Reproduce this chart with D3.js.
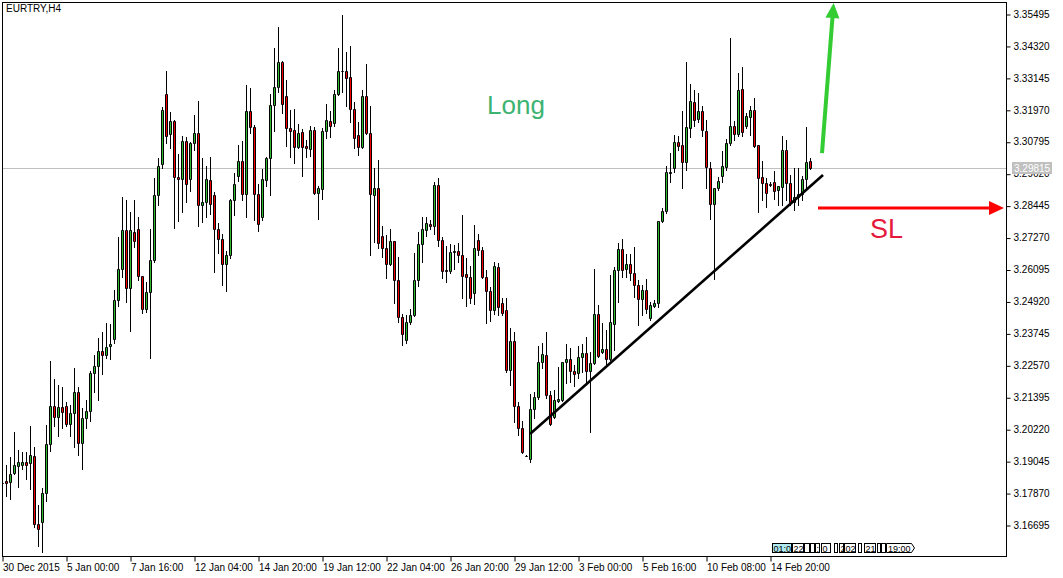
<!DOCTYPE html>
<html><head><meta charset="utf-8">
<script src="https://cdn.jsdelivr.net/npm/d3@7"></script>
<style>
body{margin:0;background:#fff}
svg{display:block}
text{font-family:"Liberation Sans",Arial,sans-serif}
</style>
</head><body>
<svg id="c" width="1063" height="578"></svg>
<script>
const chartTitle = "EURTRY,H4";

const openP = [
3.1824,3.1831,3.1826,3.1859,3.1887,3.1891,3.1903,3.1896,3.1922,3.1672,
3.1681,3.1789,3.1966,3.2106,3.2065,3.2102,3.2106,3.2040,3.2080,3.2158,
3.1970,3.2062,3.2089,3.2228,3.2254,3.2310,3.2294,3.2327,3.2352,3.2497,
3.2611,3.2755,3.2540,3.2747,3.2757,3.2584,3.2463,3.2526,3.2643,3.2882,
3.2996,3.3255,3.3107,3.3156,3.2950,3.2941,3.3082,3.2941,3.3074,3.3112,
3.2846,3.2857,3.2938,3.2882,3.2757,3.2723,3.2628,3.2663,3.2865,3.2954,
3.3007,3.2886,3.3191,3.3134,3.2886,3.2804,3.2939,3.3019,3.3214,3.3280,
3.3373,3.3248,3.3130,3.3122,3.3059,3.3115,3.3064,3.3054,3.3122,3.2892,
3.2907,3.3118,3.3156,3.3147,3.3254,3.3340,3.3340,3.3316,3.3200,3.3103,
3.3059,3.3247,3.3111,3.2882,3.2908,3.2731,3.2688,3.2628,3.2714,3.2570,
3.2433,3.2349,3.2417,3.2441,3.2571,3.2702,3.2755,3.2776,3.2768,3.2919,
3.2717,3.2609,3.2603,3.2673,3.2677,3.2662,3.2592,3.2582,3.2522,3.2717,
3.2680,3.2583,3.2529,3.2459,3.2617,3.2485,3.2459,3.2238,3.2345,3.2106,
3.2025,3.1925,3.1911,3.2096,3.2139,3.2268,3.2295,3.2146,3.2065,3.2125,
3.2130,3.2268,3.2279,3.2236,3.2229,3.2286,3.2301,3.2235,3.2264,3.2444,
3.2307,3.2316,3.2281,3.2410,3.2607,3.2686,3.2611,3.2628,3.2598,3.2551,
3.2500,3.2534,3.2430,3.2476,3.2485,3.2787,3.2825,3.2964,3.2982,3.3077,
3.3067,3.3006,3.3131,3.3225,3.3162,3.3193,3.3119,3.2982,3.2849,3.2910,
3.2954,3.2985,3.3076,3.3137,3.3109,3.3274,3.3138,3.3172,3.3196,3.3067,
3.2949,3.2929,3.2923,3.2930,3.2901,3.2914,3.3049,3.2926,3.2859,3.2877,
3.2888,3.2941,3.3009];

const highP = [
3.1835,3.1890,3.1920,3.2011,3.1945,3.1938,3.1938,3.2033,3.1956,3.1743,
3.1804,3.2037,3.2273,3.2206,3.2185,3.2179,3.2123,3.2110,3.2247,3.2178,
3.2101,3.2130,3.2236,3.2295,3.2357,3.2379,3.2412,3.2408,3.2534,3.2730,
3.2876,3.2865,3.2821,3.2865,3.2804,3.2586,3.2562,3.2758,3.2946,3.3019,
3.3208,3.3341,3.3189,3.3158,3.3034,3.3102,3.3096,3.3080,3.3177,3.3228,
3.3020,3.2989,3.3022,3.2894,3.2782,3.2740,3.2677,3.2870,3.2963,3.3066,
3.3083,3.3288,3.3279,3.3142,3.2923,3.2980,3.3024,3.3255,3.3424,3.3503,
3.3378,3.3307,3.3196,3.3201,3.3146,3.3126,3.3085,3.3136,3.3133,3.2916,
3.3130,3.3218,3.3193,3.3270,3.3424,3.3546,3.3411,3.3432,3.3225,3.3152,
3.3270,3.3366,3.3210,3.2984,3.3012,3.2770,3.2736,3.2758,3.2716,3.2656,
3.2444,3.2443,3.2466,3.2670,3.2748,3.2804,3.2802,3.2790,3.2931,3.2946,
3.2730,3.2696,3.2703,3.2699,3.2708,3.2810,3.2651,3.2622,3.2773,3.2739,
3.2693,3.2607,3.2545,3.2636,3.2632,3.2503,3.2504,3.2395,3.2378,3.2123,
3.2053,3.1926,3.2150,3.2157,3.2329,3.2340,3.2378,3.2163,3.2165,3.2252,
3.2270,3.2335,3.2319,3.2258,3.2327,3.2335,3.2362,3.2305,3.2611,3.2478,
3.2414,3.2387,3.2588,3.2618,3.2706,3.2720,3.2667,3.2665,3.2692,3.2572,
3.2552,3.2574,3.2490,3.2497,3.2789,3.2837,3.2990,3.3038,3.3104,3.3101,
3.3193,3.3373,3.3292,3.3270,3.3260,3.3211,3.3159,3.3004,3.2910,3.2951,
3.3045,3.3090,3.3462,3.3156,3.3334,3.3356,3.3184,3.3211,3.3239,3.3068,
3.3010,3.2945,3.2931,3.2971,3.2917,3.3101,3.3086,3.2957,3.2983,3.2982,
3.2954,3.3134,3.3020];

const lowP = [
3.1809,3.1776,3.1766,3.1857,3.1810,3.1876,3.1839,3.1803,3.1663,3.1594,
3.1572,3.1758,3.1942,3.2035,3.1996,3.2025,3.2035,3.1996,3.1957,3.1927,
3.1876,3.2027,3.2053,3.2160,3.2130,3.2224,3.2285,3.2279,3.2338,3.2475,
3.2581,3.2491,3.2384,3.2693,3.2571,3.2448,3.2453,3.2285,3.2637,3.2847,
3.2983,3.3076,3.3056,3.2763,3.2789,3.2822,3.2859,3.2897,3.3049,3.2770,
3.2785,3.2804,3.2812,3.2601,3.2671,3.2552,3.2531,3.2652,3.2810,3.2935,
3.2865,3.2801,3.3111,3.2791,3.2751,3.2791,3.2918,3.2885,3.3120,3.3264,
3.3186,3.3064,3.3024,3.3002,3.3055,3.2954,3.3024,3.3027,3.2887,3.2796,
3.2868,3.3094,3.3097,3.3137,3.3252,3.3264,3.3212,3.3151,3.3058,3.3032,
3.3056,3.3109,3.2662,3.2712,3.2688,3.2655,3.2579,3.2626,3.2486,3.2417,
3.2331,3.2340,3.2408,3.2438,3.2550,3.2638,3.2734,3.2759,3.2739,3.2696,
3.2579,3.2564,3.2598,3.2610,3.2637,3.2506,3.2474,3.2485,3.2482,3.2663,
3.2578,3.2414,3.2420,3.2447,3.2441,3.2443,3.2233,3.2184,3.2048,3.2000,
3.1935,3.1922,3.1902,3.2063,3.2134,3.2247,3.2138,3.2038,3.2063,3.2123,
3.2124,3.2191,3.2196,3.2182,3.2211,3.2232,3.2193,3.2010,3.2262,3.2288,
3.2301,3.2259,3.2276,3.2312,3.2490,3.2583,3.2583,3.2572,3.2509,3.2404,
3.2443,3.2450,3.2425,3.2472,3.2473,3.2783,3.2817,3.2932,3.2969,3.3049,
3.2910,3.2975,3.3096,3.3138,3.3153,3.3101,3.2908,3.2796,3.2575,3.2902,
3.2932,3.2975,3.3067,3.3086,3.3101,3.3101,3.3130,3.3104,3.3060,3.2820,
3.2865,3.2840,3.2916,3.2868,3.2847,3.2847,3.2865,3.2847,3.2828,3.2847,
3.2865,3.2902,3.2980];

const closeP = [
3.1823,3.1823,3.1856,3.1892,3.1902,3.1903,3.1891,3.1926,3.1672,3.1653,
3.1789,3.1966,3.2106,3.2065,3.2102,3.2086,3.2040,3.2080,3.2158,3.1970,
3.2062,3.2089,3.2228,3.2254,3.2310,3.2294,3.2324,3.2335,3.2497,3.2611,
3.2755,3.2540,3.2755,3.2713,3.2584,3.2463,3.2526,3.2643,3.2882,3.2989,
3.3196,3.3102,3.3156,3.2949,3.2941,3.3082,3.2923,3.3075,3.3112,3.2846,
3.2857,3.2942,3.2851,3.2757,3.2720,3.2628,3.2663,3.2865,3.2923,3.3007,
3.2886,3.3191,3.3133,3.2886,3.2777,3.2941,3.3019,3.3214,3.3281,3.3373,
3.3219,3.3129,3.3120,3.3059,3.3112,3.3061,3.3055,3.3122,3.2892,3.2908,
3.3118,3.3158,3.3138,3.3254,3.3340,3.3339,3.3315,3.3199,3.3092,3.3059,
3.3247,3.3111,3.2887,3.2908,3.2706,3.2687,3.2628,3.2714,3.2570,3.2436,
3.2371,3.2417,3.2441,3.2571,3.2702,3.2757,3.2779,3.2768,3.2919,3.2717,
3.2603,3.2603,3.2673,3.2677,3.2662,3.2586,3.2583,3.2506,3.2687,3.2680,
3.2582,3.2529,3.2459,3.2621,3.2472,3.2450,3.2238,3.2345,3.2106,3.2025,
3.1939,3.1924,3.2096,3.2139,3.2268,3.2297,3.2146,3.2041,3.2128,3.2132,
3.2268,3.2279,3.2235,3.2224,3.2286,3.2301,3.2235,3.2264,3.2444,3.2290,
3.2316,3.2281,3.2415,3.2607,3.2686,3.2606,3.2628,3.2598,3.2551,3.2500,
3.2533,3.2465,3.2479,3.2486,3.2787,3.2825,3.2968,3.2968,3.3077,3.3065,
3.3006,3.3134,3.3229,3.3159,3.3193,3.3122,3.2985,3.2849,3.2908,3.2935,
3.2992,3.3074,3.3137,3.3109,3.3270,3.3114,3.3174,3.3196,3.3065,3.2947,
3.2929,3.2890,3.2922,3.2899,3.2915,3.3049,3.2926,3.2859,3.2877,3.2888,
3.2941,3.3004,3.2982];

const timeTickIndex = [0,16,32,48,64,80,96,112,128,144,160,176,192];
const timeTickLabels = ["30 Dec 2015","5 Jan 00:00","7 Jan 16:00","12 Jan 04:00","14 Jan 20:00",
  "19 Jan 12:00","22 Jan 04:00","26 Jan 20:00","29 Jan 12:00","3 Feb 00:00","5 Feb 16:00",
  "10 Feb 08:00","14 Feb 20:00"];
const priceTicks = [3.35495,3.34320,3.33145,3.31970,3.30795,3.29620,3.28445,3.27270,
  3.26095,3.24920,3.23745,3.22570,3.21395,3.20220,3.19045,3.17870,3.16695];
const lastPrice = 3.29815;

// annotations in (bar index, price)
const trendLine = [[132, 3.2004], [205.25, 3.2957]];
const longArrow = [[205, 3.3038], [207.9, 3.3590]];
const slArrow = [[204, 3.2836], [250.5, 3.2836]];
const longLabel = {text: "Long", i: 121.25, p: 3.3181};
const slLabel = {text: "SL", i: 217, p: 3.2725};

const bull = "#2dbe2d", bear = "#f00000";

const svg = d3.select("#c");
svg.append("rect").attr("width",1063).attr("height",578).attr("fill","#fff");

const x = d3.scaleLinear().domain([0, 251]).range([2, 1006]);
const y = d3.scaleLinear().domain([3.16695, 3.35495]).range([525, 14]);

const data = d3.range(openP.length).map(i => ({i, o: openP[i], h: highP[i], l: lowP[i], c: closeP[i]}));

svg.append("defs").append("clipPath").attr("id","clip")
  .append("rect").attr("x",3).attr("y",3).attr("width",1003).attr("height",553);

const plot = svg.append("g").attr("clip-path","url(#clip)");

// last price line
plot.append("line")
  .attr("x1", 2).attr("x2", 1006)
  .attr("y1", Math.round(y(lastPrice)) + 0.5).attr("y2", Math.round(y(lastPrice)) + 0.5)
  .attr("stroke", "#c0c0c0").attr("stroke-width", 1);

// wicks
plot.selectAll("line.wick").data(data).join("line").attr("class","wick")
  .attr("x1", d => x(d.i) + 0.5).attr("x2", d => x(d.i) + 0.5)
  .attr("y1", d => Math.round(y(d.h))).attr("y2", d => Math.round(y(d.l)) + 1)
  .attr("stroke", "#000").attr("stroke-width", 1);

// bodies
plot.selectAll("path.body").data(data).join("path").attr("class","body")
  .attr("d", d => {
    const t = Math.round(y(Math.max(d.o, d.c))) + 0.5;
    const b = Math.round(y(Math.min(d.o, d.c))) + 0.5;
    const x0 = x(d.i) - 0.5;
    return `M${x0},${t}h2V${b}h-2Z`;
  })
  .attr("fill", d => d.c >= d.o ? bull : bear)
  .attr("stroke", "#000").attr("stroke-width", 1);

// trend line
const lineGen = d3.line().x(d => x(d[0])).y(d => y(d[1]));
plot.append("path").attr("d", lineGen(trendLine))
  .attr("stroke", "#000").attr("stroke-width", 2.6).attr("fill", "none");

// arrows
function arrow(pts, color, width, headLen, headHalf) {
  const [x1, y1] = [x(pts[0][0]), y(pts[0][1])];
  const [x2, y2] = [x(pts[1][0]), y(pts[1][1])];
  const ang = Math.atan2(y2 - y1, x2 - x1);
  const bx = x2 - headLen * Math.cos(ang), by = y2 - headLen * Math.sin(ang);
  plot.append("line").attr("x1", x1).attr("y1", y1).attr("x2", bx).attr("y2", by)
    .attr("stroke", color).attr("stroke-width", width);
  const px = -Math.sin(ang) * headHalf, py = Math.cos(ang) * headHalf;
  plot.append("path")
    .attr("d", `M${x2},${y2}L${bx + px},${by + py}L${bx - px},${by - py}Z`)
    .attr("fill", color);
}
arrow(longArrow, "#33cc33", 4, 15, 7);
arrow(slArrow, "#ff0000", 3, 15, 7);

// labels
plot.append("text").attr("x", x(longLabel.i)).attr("y", y(longLabel.p))
  .attr("font-size", 26).attr("fill", "#3cb371").text(longLabel.text);
plot.append("text").attr("x", x(slLabel.i)).attr("y", y(slLabel.p))
  .attr("font-size", 27).attr("fill", "#e6193c").text(slLabel.text);

// frame
svg.append("rect").attr("x", 2.5).attr("y", 2.5).attr("width", 1004).attr("height", 554)
  .attr("fill", "none").attr("stroke", "#000").attr("stroke-width", 1);

// title
svg.append("text").attr("x", 6).attr("y", 12).attr("font-size", 10).attr("fill", "#000").text(chartTitle);

// right axis
const yAxis = d3.axisRight(y).tickValues(priceTicks).tickFormat(d3.format(".5f")).tickSize(4).tickPadding(3);
const ya = svg.append("g").attr("transform", "translate(1006.5,0)").call(yAxis);
ya.select(".domain").remove();
ya.selectAll(".tick line").attr("stroke", "#000").attr("transform","translate(0,0.5)");
ya.selectAll(".tick text").attr("font-size", 10).attr("fill", "#000")
  .attr("font-family", '"Liberation Sans",Arial,sans-serif');

// last price label
const lpY = Math.round(y(lastPrice));
svg.append("rect").attr("x", 1012).attr("y", lpY - 6).attr("width", 40).attr("height", 12).attr("fill", "#c0c0c0");
svg.append("text").attr("x", 1014).attr("y", lpY + 4).attr("font-size", 10).attr("fill", "#fff")
  .text(d3.format(".5f")(lastPrice));

// bottom axis
const xAxis = d3.axisBottom(x).tickValues(timeTickIndex)
  .tickFormat((d, k) => timeTickLabels[k]).tickSize(5).tickPadding(2);
const xa = svg.append("g").attr("transform", "translate(0.5,556.5)").call(xAxis);
xa.select(".domain").remove();
xa.selectAll(".tick line").attr("stroke", "#000");
xa.selectAll(".tick text").attr("font-size", 10).attr("fill", "#000").attr("text-anchor", "start").attr("x", 0)
  .attr("font-family", '"Liberation Sans",Arial,sans-serif');

// MT5 timeline markers (bottom right)
const marks = [
  [772, 791, "01:0", "#aeeaf0"], [792, 803, "22", "#fff"], [804, 809, "", "#fff"], [810, 814, "", "#fff"],
  [815, 819, ":", "#fff"], [821, 830, "0", "#fff"], [834, 837, "", "#fff"], [839, 843, "2", "#fff"],
  [844, 855, "02", "#fff"], [858, 861, "", "#fff"], [864, 875, "21", "#fff"], [877, 880, "", "#fff"],
  [881, 885, "", "#fff"]];
const mg = svg.append("g");
marks.forEach(m => {
  mg.append("rect").attr("x", m[0] + 0.5).attr("y", 543.5).attr("width", m[1] - m[0]).attr("height", 9)
    .attr("fill", m[3]).attr("stroke", "#000").attr("stroke-width", 1);
  if (m[2]) mg.append("text").attr("x", m[0] + 1.5).attr("y", 551.5).attr("font-size", 9)
    .attr("fill", "#000").text(m[2]);
});
mg.append("path").attr("d", "M886.5,543.5H911.5L914.5,548L911.5,552.5H886.5Z")
  .attr("fill", "#fff").attr("stroke", "#000");
mg.append("text").attr("x", 888).attr("y", 551.5).attr("font-size", 9).attr("fill", "#000").text("19:00");
</script>
</body></html>
